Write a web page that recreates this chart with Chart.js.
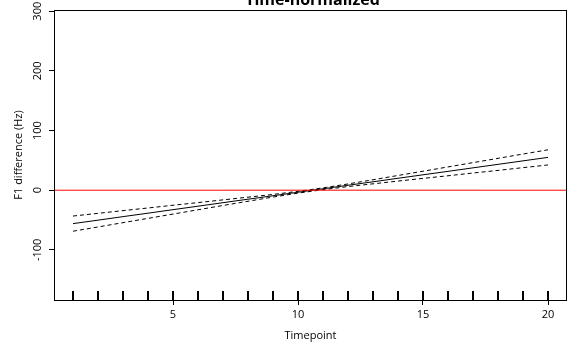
<!DOCTYPE html>
<html><head><meta charset="utf-8">
<script src="https://cdn.jsdelivr.net/npm/chart.js@4/dist/chart.umd.min.js"></script>
<style>html,body{margin:0;padding:0;background:#fff}</style>
</head><body>
<canvas id="c" width="568" height="347"></canvas>
<script>
// ---- data ----
const timepoints = [1,2,3,4,5,6,7,8,9,10,11,12,13,14,15,16,17,18,19,20];
const fitValues  = [-56.0,-50.2,-44.3,-38.5,-32.6,-26.8,-20.9,-15.1,-9.3,-3.4,2.4,8.3,14.1,20.0,25.8,31.6,37.5,43.3,49.2,55.0];
const upperCI    = [-43.3,-38.8,-34.2,-29.8,-25.2,-20.8,-16.2,-11.7,-7.1,-1.9,3.9,10.5,17.5,24.7,31.8,39.0,46.2,53.4,60.6,67.7];
const lowerCI    = [-68.7,-61.6,-54.4,-47.2,-40.0,-32.8,-25.6,-18.5,-11.5,-4.9,0.9,6.1,10.7,15.3,19.8,24.2,28.8,33.2,37.8,42.3];
const xTickLabels = [5,10,15,20];
const yTickLabels = [-100,0,100,200,300];
const rugValues = [1,2,3,4,5,6,7,8,9,10,11,12,13,14,15,16,17,18,19,20];
const referenceValue = 0;
const chartTitle = 'Time-normalized';
const xTitle = 'Timepoint';
const yTitle = 'F1 difference (Hz)';

const FONT = '"Open Sans", "Noto Sans", sans-serif';
const toXY = (xs, ys) => xs.map((x, i) => ({x: x, y: ys[i]}));

const decor = {
  id: 'decor',
  afterDatasetsDraw(chart) {
    const {ctx, chartArea: a, scales: {x, y}} = chart;
    ctx.save();
    // reference line
    const y0 = y.getPixelForValue(referenceValue);
    ctx.strokeStyle = '#ff0000';
    ctx.lineWidth = 1;
    ctx.beginPath();
    ctx.moveTo(a.left, y0);
    ctx.lineTo(a.right, y0);
    ctx.stroke();
    // rug
    ctx.strokeStyle = '#000';
    ctx.lineWidth = 2;
    ctx.beginPath();
    rugValues.forEach(v => {
      const px = Math.round(x.getPixelForValue(v));
      ctx.moveTo(px, a.bottom);
      ctx.lineTo(px, a.bottom - 9);
    });
    ctx.stroke();
    // box
    ctx.lineWidth = 1;
    ctx.strokeStyle = '#000';
    ctx.strokeRect(Math.round(a.left) + 0.5, Math.round(a.top) + 0.5,
                   Math.round(a.right - a.left) - 1, Math.round(a.bottom - a.top));
    // title
    ctx.fillStyle = '#000';
    ctx.font = 'bold 16px ' + FONT;
    ctx.textAlign = 'center';
    ctx.textBaseline = 'alphabetic';
    ctx.fillText(chartTitle, (a.left + a.right) / 2 + 2, 5);
    ctx.restore();
  }
};

new Chart(document.getElementById('c'), {
  type: 'line',
  data: {
    datasets: [
      {data: toXY(timepoints, fitValues), borderColor: '#000', borderWidth: 1, pointRadius: 0, tension: 0},
      {data: toXY(timepoints, upperCI), borderColor: '#000', borderWidth: 1, borderDash: [4, 3], pointRadius: 0, tension: 0},
      {data: toXY(timepoints, lowerCI), borderColor: '#000', borderWidth: 1, borderDash: [4, 3], pointRadius: 0, tension: 0}
    ]
  },
  options: {
    responsive: false,
    animation: false,
    devicePixelRatio: 1,
    layout: {padding: {top: 10, right: 1, left: 0, bottom: 0}},
    plugins: {legend: {display: false}, tooltip: {enabled: false}, title: {display: false}},
    scales: {
      x: {
        type: 'linear', min: 0.24, max: 20.76,
        afterBuildTicks: s => { s.ticks = xTickLabels.map(v => ({value: v})); },
        afterFit: s => { s.height = 47; },
        grid: {display: true, drawOnChartArea: false, drawTicks: true, tickLength: 5, color: '#000', lineWidth: 1},
        border: {display: false},
        ticks: {color: '#000', font: {family: FONT, size: 11}, padding: 3, maxRotation: 0, autoSkip: false},
        title: {display: true, text: xTitle, color: '#000', font: {family: FONT, size: 11}, padding: {top: 0, bottom: 5}}
      },
      y: {
        type: 'linear', min: -184, max: 302,
        afterBuildTicks: s => { s.ticks = yTickLabels.map(v => ({value: v})); },
        afterFit: s => { s.width = 54; },
        grid: {display: true, drawOnChartArea: false, drawTicks: true, tickLength: 5, color: '#000', lineWidth: 1},
        border: {display: false},
        ticks: {color: '#000', font: {family: FONT, size: 11}, padding: 0, minRotation: 90, maxRotation: 90, crossAlign: 'center', autoSkip: false},
        title: {display: true, text: yTitle, color: '#000', font: {family: FONT, size: 11}, padding: {top: 12, bottom: 0}}
      }
    }
  },
  plugins: [decor]
});
</script>
</body></html>
